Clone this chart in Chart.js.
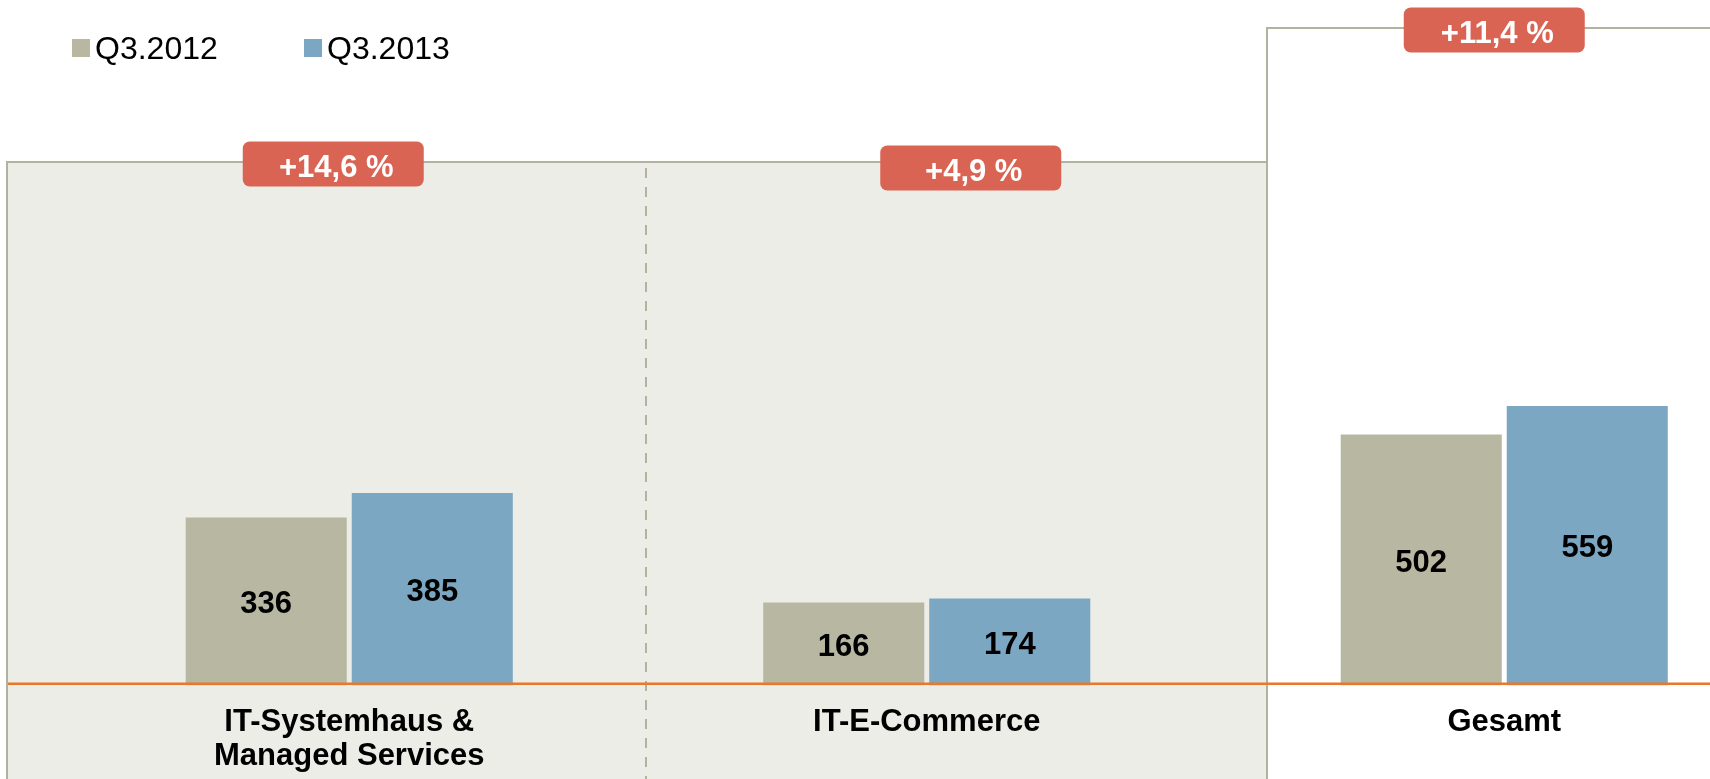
<!DOCTYPE html>
<html><head><meta charset="utf-8">
<script src="https://cdn.jsdelivr.net/npm/chart.js@4.4.1/dist/chart.umd.min.js"></script>
<style>
html,body{margin:0;padding:0;overflow:hidden;background:#fff;width:1710px;height:779px}
#wrap{position:absolute;left:0;top:0;width:1800px;height:779px}
canvas{display:block}
</style>
</head><body><div id="wrap"><canvas id="c" width="1800" height="779"></canvas></div>
<script>
// ---- data ----
const categories = [["IT-Systemhaus &", "Managed Services"], "IT-E-Commerce", "Gesamt"];
const seriesNames = ["Q3.2012", "Q3.2013"];
const q3_2012 = [336, 166, 502];
const q3_2013 = [385, 174, 559];
const growthLabels = ["+14,6 %", "+4,9 %", "+11,4 %"];

// ---- styles ----
const FONT = "'Liberation Sans', Arial, sans-serif";
const colors = ["#B8B8A2", "#7BA7C2"];
const panelFill = "#EDEDE8";
const panelLine = "#B2B29E";
const baseLineColor = "#E8792A";
const badgeColor = "#DA6453";

const decorPlugin = {
  id: 'decor',
  beforeDraw(chart) {
    const ctx = chart.ctx;
    const H = chart.height;
    ctx.save();
    ctx.fillStyle = '#fff';
    ctx.fillRect(0, 0, chart.width, H);
    // grey panel (first two groups)
    ctx.fillStyle = panelFill;
    ctx.fillRect(7, 162, 1267 - 7, H - 162);
    ctx.strokeStyle = panelLine;
    ctx.lineWidth = 2;
    ctx.beginPath();
    ctx.moveTo(7, H); ctx.lineTo(7, 162); ctx.lineTo(1267, 162);
    ctx.stroke();
    // total panel
    ctx.beginPath();
    ctx.moveTo(1267, H); ctx.lineTo(1267, 28); ctx.lineTo(chart.width, 28);
    ctx.stroke();
    // dashed separator
    ctx.setLineDash([10, 9]);
    ctx.beginPath();
    ctx.moveTo(646, 168); ctx.lineTo(646, H);
    ctx.stroke();
    ctx.restore();
  },
  afterDatasetsDraw(chart) {
    const ctx = chart.ctx;
    const yScale = chart.scales.y;
    ctx.save();
    // orange baseline
    ctx.strokeStyle = baseLineColor;
    ctx.lineWidth = 2.5;
    ctx.beginPath();
    ctx.moveTo(8, yScale.getPixelForValue(0) - 1.8);
    ctx.lineTo(chart.width, yScale.getPixelForValue(0) - 1.8);
    ctx.stroke();
    // value labels centred in bars
    ctx.fillStyle = '#000';
    ctx.font = "bold 31px " + FONT;
    ctx.textAlign = 'center';
    ctx.textBaseline = 'middle';
    chart.data.datasets.forEach((ds, di) => {
      const meta = chart.getDatasetMeta(di);
      meta.data.forEach((bar, i) => {
        const p = bar.getProps(['x', 'y', 'base'], true);
        ctx.fillText(String(ds.data[i]), p.x, (p.y + p.base) / 2 + 3);
      });
    });
    ctx.restore();
  },
  afterDraw(chart) {
    const ctx = chart.ctx;
    const xScale = chart.scales.x;
    ctx.save();
    // growth badges
    const badgeDx = [-16, 44, -10];
    const badgeY = [164, 168, 30];
    growthLabels.forEach((t, i) => {
      const cx = xScale.getPixelForValue(i) + badgeDx[i];
      const cy = badgeY[i];
      const w = 181, h = 45;
      ctx.fillStyle = badgeColor;
      ctx.beginPath();
      ctx.roundRect(cx - w / 2, cy - h / 2, w, h, 7);
      ctx.fill();
      ctx.fillStyle = '#fff';
      ctx.font = "bold 31px " + FONT;
      ctx.textAlign = 'center';
      ctx.textBaseline = 'middle';
      ctx.fillText(t, cx + 3, cy + 4);
    });
    // legend
    const legendX = [72, 304];
    ctx.font = "32px " + FONT;
    ctx.textAlign = 'left';
    ctx.textBaseline = 'middle';
    chart.data.datasets.forEach((ds, i) => {
      ctx.fillStyle = ds.backgroundColor;
      ctx.fillRect(legendX[i], 39, 18, 18);
      ctx.fillStyle = '#000';
      ctx.fillText(ds.label, legendX[i] + 23, 50);
    });
    ctx.restore();
  }
};

new Chart(document.getElementById('c'), {
  type: 'bar',
  data: {
    labels: categories,
    datasets: [
      { label: seriesNames[0], data: q3_2012, backgroundColor: colors[0] },
      { label: seriesNames[1], data: q3_2013, backgroundColor: colors[1] }
    ]
  },
  options: {
    responsive: false,
    animation: false,
    devicePixelRatio: 1,
    categoryPercentage: 0.575,
    barPercentage: 0.97,
    layout: { padding: { left: 60.5, right: 7, top: 185.5, bottom: 0 } },
    plugins: { legend: { display: false }, tooltip: { enabled: false }, title: { display: false } },
    scales: {
      x: {
        type: 'category',
        offset: true,
        grid: { display: false, drawTicks: false },
        border: { display: false },
        ticks: {
          color: '#000',
          font: { family: FONT, size: 31, weight: 'bold', lineHeight: '34px' },
          padding: 20,
          maxRotation: 0, minRotation: 0, autoSkip: false
        },
        afterFit: (s) => { s.height = 93.5; }
      },
      y: { display: false, min: 0, max: 1000 }
    }
  },
  plugins: [decorPlugin]
});
</script>
</body></html>
